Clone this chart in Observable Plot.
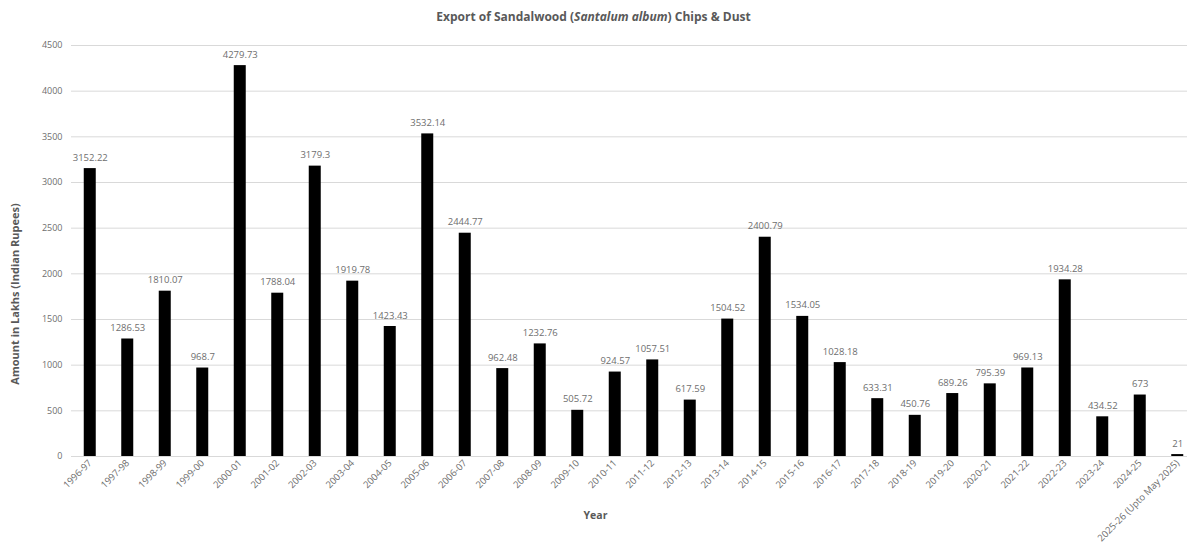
<!DOCTYPE html>
<html>
<head>
<meta charset="utf-8">
<script src="https://cdn.jsdelivr.net/npm/d3@7"></script>
<script src="https://cdn.jsdelivr.net/npm/@observablehq/plot@0.6"></script>
<style>
  body { margin: 0; background: #fff; font-family: "Open Sans", sans-serif; }
  #title { height: 30px; line-height: 34px; text-align: center; font-weight: bold; font-size: 12px; color: #595959; }
  #chart svg { display: block; }
</style>
</head>
<body>
<div id="title">Export of Sandalwood (<i>Santalum album</i>) Chips &amp; Dust</div>
<div id="chart"></div>
<script>
// Financial years and export value of sandalwood chips & dust (lakh rupees)
const years = [
  "1996-97", "1997-98", "1998-99", "1999-00", "2000-01", "2001-02", "2002-03",
  "2003-04", "2004-05", "2005-06", "2006-07", "2007-08", "2008-09", "2009-10",
  "2010-11", "2011-12", "2012-13", "2013-14", "2014-15", "2015-16", "2016-17",
  "2017-18", "2018-19", "2019-20", "2020-21", "2021-22", "2022-23", "2023-24",
  "2024-25", "2025-26 (Upto May 2025)"
];
const amounts = [
  3152.22, 1286.53, 1810.07, 968.7, 4279.73, 1788.04, 3179.3,
  1919.78, 1423.43, 3532.14, 2444.77, 962.48, 1232.76, 505.72,
  924.57, 1057.51, 617.59, 1504.52, 2400.79, 1534.05, 1028.18,
  633.31, 450.76, 689.26, 795.39, 969.13, 1934.28, 434.52,
  673, 21
];
const yTicks = [0, 500, 1000, 1500, 2000, 2500, 3000, 3500, 4000, 4500];

const data = years.map((year, i) => ({year, amount: amounts[i]}));
const gray = "#595959";
const light = "#6e6e6e";

const chart = Plot.plot({
  width: 1187,
  height: 521,
  marginLeft: 71,
  marginRight: 0,
  marginTop: 15,
  marginBottom: 95,
  style: {fontFamily: "'Open Sans', sans-serif", fontSize: "9px", color: gray, background: "#fff"},
  x: {domain: years, range: [71, 1196], round: false, paddingInner: 0.68, paddingOuter: 0.34, label: null},
  y: {domain: [0, 4500], label: null},
  marks: [
    Plot.gridY(yTicks, {stroke: "#d9d9d9", strokeOpacity: 1, strokeWidth: 1}),
    Plot.axisY(yTicks, {tickSize: 0, tickPadding: 9, tickFormat: d => String(d), fill: light, fontSize: 9, label: null}),
    Plot.axisX({tickSize: 0, tickPadding: 5, tickRotate: -45, fill: light, fontSize: 9.5, label: null}),
    Plot.barY(data, {x: "year", y: "amount", fill: "#000"}),
    Plot.text(data, {x: "year", y: "amount", text: d => String(d.amount), dy: -11, fill: light, fontSize: 9.5}),
    Plot.text(["Amount in Lakhs (Indian Rupees)"], {frameAnchor: "left", textAnchor: "middle", dx: -56, dy: 43, rotate: -90, fill: gray, fontSize: 11, fontWeight: "bold"}),
    Plot.text(["Year"], {frameAnchor: "bottom", dx: -34, dy: 62, fill: gray, fontSize: 10.5, fontWeight: "bold"})
  ]
});
document.getElementById("chart").append(chart);
</script>
</body>
</html>
